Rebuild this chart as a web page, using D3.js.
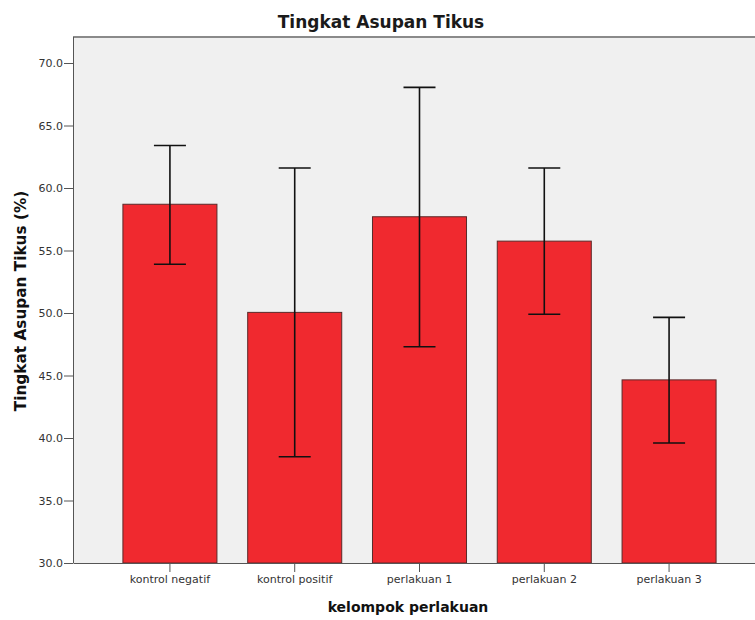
<!DOCTYPE html>
<html>
<head>
<meta charset="utf-8">
<script src="https://cdn.jsdelivr.net/npm/d3@7"></script>
<style>
  html, body { margin: 0; padding: 0; background: #fff; }
  svg { display: block; }
</style>
</head>
<body>
<svg id="chart" width="755" height="620"></svg>
<script>
// Kelompok perlakuan and mean intake with 95% CI bounds
const categories = ["kontrol negatif", "kontrol positif", "perlakuan 1", "perlakuan 2", "perlakuan 3"];
const means      = [58.7, 50.05, 57.7, 55.75, 44.65];
const ciUpper    = [63.4, 61.6, 68.05, 61.6, 49.65];
const ciLower    = [53.9, 38.5, 47.3, 49.9, 39.6];
const yTicks     = [30, 35, 40, 45, 50, 55, 60, 65, 70];

const svg = d3.select("#chart");
const plot = { left: 73, top: 37, right: 766, bottom: 563 };
const tickFont = "DejaVu Sans, Verdana, sans-serif";

const x = d3.scaleBand()
  .domain(categories)
  .range([plot.left, plot.right])
  .paddingInner(0.2465)
  .paddingOuter(0.4);

const y = d3.scaleLinear()
  .domain([30, 70])
  .range([plot.bottom, 63]);

// plot background
svg.append("rect")
  .attr("x", plot.left).attr("y", plot.top)
  .attr("width", plot.right - plot.left).attr("height", plot.bottom - plot.top)
  .attr("fill", "#f0f0f0");

// top frame line
svg.append("line")
  .attr("x1", plot.left).attr("x2", plot.right)
  .attr("y1", plot.top).attr("y2", plot.top)
  .attr("stroke", "#8a8a8a").attr("stroke-width", 2);

const rows = categories.map((c, i) => ({ c, m: means[i], hi: ciUpper[i], lo: ciLower[i] }));

// bars
svg.append("g").selectAll("rect")
  .data(rows).join("rect")
  .attr("x", d => x(d.c))
  .attr("y", d => y(d.m))
  .attr("width", x.bandwidth())
  .attr("height", d => y(30) - y(d.m))
  .attr("fill", "#f0292f")
  .attr("stroke", "#5a2a2a")
  .attr("stroke-width", 1);

// error bars
const capHalf = 16;
const eb = svg.append("g").attr("stroke", "#111").attr("stroke-width", 1.6);
rows.forEach(d => {
  const cx = x(d.c) + x.bandwidth() / 2;
  eb.append("line").attr("x1", cx).attr("x2", cx).attr("y1", y(d.hi)).attr("y2", y(d.lo));
  eb.append("line").attr("x1", cx - capHalf).attr("x2", cx + capHalf).attr("y1", y(d.hi)).attr("y2", y(d.hi));
  eb.append("line").attr("x1", cx - capHalf).attr("x2", cx + capHalf).attr("y1", y(d.lo)).attr("y2", y(d.lo));
});

// y axis
const yAxis = svg.append("g")
  .attr("transform", `translate(${plot.left},0)`)
  .call(d3.axisLeft(y).tickValues(yTicks).tickFormat(d3.format(".1f")).tickSize(9).tickSizeOuter(0));
yAxis.select(".domain").attr("stroke", "#555").attr("d", `M0.5,${plot.top}V${plot.bottom}`);
yAxis.selectAll(".tick line").attr("stroke", "#555");
yAxis.selectAll(".tick text")
  .attr("font-family", tickFont)
  .attr("font-size", 11).attr("fill", "#333").attr("x", -10);

// x axis
const xAxis = svg.append("g")
  .attr("transform", `translate(0,${plot.bottom})`)
  .call(d3.axisBottom(x).tickSize(9).tickSizeOuter(0));
xAxis.select(".domain").attr("stroke", "#555");
xAxis.selectAll(".tick line").attr("stroke", "#555");
xAxis.selectAll(".tick text")
  .attr("font-family", tickFont)
  .attr("font-size", 11).attr("fill", "#333").attr("y", 12);

// titles
svg.append("text")
  .attr("x", 381).attr("y", 28)
  .attr("text-anchor", "middle")
  .attr("font-family", "DejaVu Sans, Verdana, sans-serif")
  .attr("font-weight", "bold").attr("font-size", 17).attr("fill", "#1a1a1a")
  .text("Tingkat Asupan Tikus");

svg.append("text")
  .attr("x", 408).attr("y", 612)
  .attr("text-anchor", "middle")
  .attr("font-family", "DejaVu Sans, Verdana, sans-serif")
  .attr("font-weight", "bold").attr("font-size", 14).attr("fill", "#111")
  .text("kelompok perlakuan");

svg.append("text")
  .attr("transform", `translate(26,301) rotate(-90)`)
  .attr("text-anchor", "middle")
  .attr("font-family", "DejaVu Sans, Verdana, sans-serif")
  .attr("font-weight", "bold").attr("font-size", 15.3).attr("fill", "#111")
  .text("Tingkat Asupan Tikus (%)");
</script>
</body>
</html>
